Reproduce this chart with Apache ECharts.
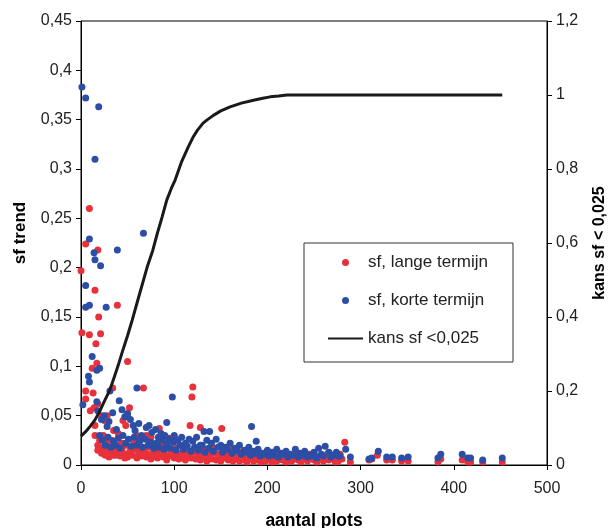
<!DOCTYPE html>
<html>
<head>
<meta charset="utf-8">
<script src="https://cdn.jsdelivr.net/npm/echarts@6/dist/echarts.min.js"></script>
<style>
html,body{margin:0;padding:0;background:#fff;}
#chart{width:609px;height:528px;}
</style>
</head>
<body>
<div id="chart"></div>
<script>
// sf, lange termijn  [aantal plots, sf trend]
const langeTermijn = [
[0,0.197],[1,0.134],[9,0.132],[21,0.133],[16,0.123],[9,0.26],[5,0.224],[18,0.218],[15,0.177],[39,0.162],[19,0.150],
[17,0.103],[12,0.098],[50,0.105],[5,0.075],[13,0.073],[34,0.078],[67,0.078],[5,0.067],[120,0.079],[119,0.069],
[84,0.037],[117,0.040],[128,0.038],[151,0.037],[283,0.023],
[10,0.055],[14,0.058],[18,0.062],[22,0.05],[25,0.045],[28,0.05],[45,0.045],[50,0.052],[52,0.058],[48,0.04],[35,0.035],
[40,0.032],[60,0.03],[70,0.03],[75,0.028],[95,0.027],[100,0.028],[62,0.025],
[15,0.04],[15,0.03],[18,0.02],[18,0.015],[20,0.018],[22,0.012],[24,0.016],[26,0.01],[28,0.02],[30,0.008],[32,0.014],
[34,0.01],[36,0.018],[38,0.012],[40,0.02],[42,0.009],[44,0.015],[46,0.011],[48,0.02],[50,0.008],[52,0.013],[55,0.01],
[58,0.016],[60,0.007],[62,0.012],[65,0.009],[68,0.014],[70,0.008],[72,0.011],[75,0.006],[78,0.013],[80,0.009],[82,0.007],
[85,0.012],[88,0.008],[90,0.01],[92,0.005],[95,0.009],[98,0.013],[100,0.007],[103,0.01],[105,0.006],[108,0.012],[110,0.008],
[112,0.005],[115,0.01],[118,0.007],[120,0.013],[123,0.006],[125,0.009],[128,0.005],[130,0.011],[133,0.007],[135,0.004],
[138,0.009],[140,0.006],[143,0.012],[145,0.005],[148,0.008],[150,0.004],[153,0.007],[155,0.01],[158,0.005],[160,0.008],
[163,0.004],[165,0.006],[168,0.009],[170,0.004],[173,0.007],[175,0.005],[178,0.003],[180,0.006],[183,0.008],[185,0.004],
[188,0.005],[190,0.007],[193,0.003],[195,0.006],[198,0.004],[200,0.007],[203,0.005],[205,0.003],[208,0.006],[210,0.004],
[213,0.007],[216,0.005],[220,0.003],[223,0.006],[226,0.004],[230,0.008],[233,0.005],[236,0.003],[240,0.006],[243,0.004],
[246,0.007],[250,0.005],[253,0.003],[256,0.006],[260,0.004],[263,0.008],[266,0.005],[270,0.007],[273,0.003],[276,0.004],
[280,0.006],[289,0.003],[309,0.005],[312,0.006],[318,0.01],[328,0.005],[334,0.005],[344,0.004],[351,0.004],[383,0.003],
[386,0.006],[409,0.005],[415,0.003],[418,0.003],[431,0.003],[452,0.003],
[20,0.025],[24,0.03],[27,0.022],[30,0.015],[33,0.025],[37,0.01],[41,0.014],[44,0.022],[47,0.007],[53,0.018],[57,0.022],
[63,0.017],[67,0.011],[73,0.018],[77,0.01],[83,0.015],[87,0.02],[93,0.016],[97,0.011],[102,0.017],[107,0.009],[113,0.015],
[117,0.012],[122,0.018],[127,0.012],[132,0.016],[137,0.013],[142,0.017],[147,0.011],[152,0.014],[157,0.012],[162,0.016],
[167,0.011],[172,0.013],[177,0.009],[182,0.012],[187,0.009],[192,0.011],[197,0.01],[202,0.012],[207,0.009],[212,0.011],
[218,0.008],[225,0.01],[232,0.012],[238,0.009],[245,0.011],[252,0.009],[258,0.01],[265,0.012],[272,0.009],[278,0.011]
];

// sf, korte termijn  [aantal plots, sf trend]
const korteTermijn = [
[1,0.383],[5,0.372],[19,0.363],[15,0.31],[9,0.229],[14,0.215],[39,0.218],[67,0.235],[15,0.208],[21,0.202],[5,0.182],
[5,0.16],[9,0.162],[27,0.16],[12,0.11],[17,0.096],[20,0.098],[8,0.09],[9,0.084],[31,0.075],[60,0.078],[2,0.061],[17,0.064],
[41,0.065],[98,0.069],[92,0.043],[132,0.034],[138,0.034],[183,0.039],[188,0.024],[284,0.016],[289,0.008],[309,0.006],
[312,0.007],[319,0.014],[328,0.008],[334,0.008],[344,0.007],[351,0.008],[383,0.007],[386,0.011],[409,0.011],[415,0.007],
[418,0.007],[431,0.005],[452,0.007],
[18,0.055],[22,0.046],[25,0.05],[28,0.039],[30,0.044],[34,0.053],[38,0.036],[44,0.056],[47,0.049],[50,0.052],[53,0.046],
[56,0.04],[58,0.035],[62,0.042],[65,0.03],[70,0.038],[73,0.04],[76,0.033],[80,0.036],[83,0.028],[86,0.032],[90,0.03],
[94,0.026],[100,0.03],[104,0.025],[108,0.028],[112,0.022],[116,0.026],[120,0.024],[124,0.028],[128,0.02],[135,0.025],
[140,0.022],[145,0.026],[150,0.02],[155,0.018],[160,0.022],[165,0.017],[170,0.02],[175,0.015],[180,0.018],[185,0.014],
[190,0.016],[195,0.012],[200,0.015],[205,0.013],[210,0.016],[215,0.012],[220,0.014],[225,0.011],[230,0.016],[235,0.012],
[240,0.014],[245,0.01],[250,0.013],[255,0.017],[258,0.011],[262,0.019],[266,0.013],[270,0.01],[274,0.013],[278,0.009],
[20,0.03],[23,0.025],[26,0.02],[29,0.028],[32,0.018],[35,0.024],[37,0.02],[40,0.027],[42,0.017],[45,0.03],[48,0.022],
[51,0.026],[54,0.019],[57,0.028],[60,0.02],[63,0.024],[66,0.018],[69,0.026],[72,0.02],[75,0.023],[78,0.017],[81,0.022],
[84,0.018],[87,0.025],[89,0.016],[92,0.021],[96,0.017],[99,0.023],[102,0.015],[106,0.02],[110,0.016],[114,0.019],
[118,0.014],[122,0.018],[126,0.015],[130,0.02],[133,0.013],[137,0.017],[142,0.014],[147,0.018],[152,0.013],[157,0.016],
[162,0.012],[167,0.015],[172,0.011],[177,0.013],[182,0.01],[187,0.012],[192,0.009],[197,0.011],[202,0.009],[207,0.01],
[212,0.008],[217,0.011],[222,0.008],[227,0.01],[233,0.008],[238,0.01],[243,0.008],[248,0.009],[253,0.007],[260,0.009],
[268,0.008],[276,0.009]
];

// kans sf < 0,025  [aantal plots, kans]
const kansCurve = [
[0,0.078],[5,0.09],[10,0.105],[15,0.122],[20,0.145],[25,0.172],[31,0.203],[36,0.24],[40,0.27],[44,0.303],[50,0.35],
[55,0.392],[61,0.446],[66,0.49],[71,0.535],[77,0.58],[82,0.627],[87,0.67],[92,0.716],[97,0.748],[101,0.77],[108,0.82],
[115,0.859],[120,0.885],[125,0.905],[131,0.924],[135,0.932],[142,0.945],[150,0.957],[160,0.968],[172,0.978],[185,0.986],
[195,0.991],[203,0.995],[212,0.997],[221,1.0],[452,1.0]
];

const seriesNames = ['sf, lange termijn', 'sf, korte termijn', 'kans sf <0,025'];
const axisTitles = { x: 'aantal plots', yLeft: 'sf trend', yRight: 'kans sf < 0,025' };

const comma = v => String(+(+v).toFixed(2)).replace('.', ',');
const FONT = 'Liberation Sans, Arial, sans-serif';
const axisLineStyle = { lineStyle: { color: '#000', width: 1 } };
const labelStyle = { color: '#222', fontSize: 16, fontFamily: FONT };
const nameStyle = { color: '#000', fontSize: 16, fontWeight: 'bold', fontFamily: FONT };

const chart = echarts.init(document.getElementById('chart'), null, { renderer: 'canvas' });
chart.setOption({
  animation: false,
  backgroundColor: '#fff',
  grid: { left: 81, right: 62, top: 21, bottom: 63, show: true, borderColor: '#000', borderWidth: 1,
    backgroundColor: 'transparent', containLabel: false, outerBoundsMode: 'none' },
  legend: {
    orient: 'vertical', left: 304, top: 243,
    padding: [11, 25, 15, 23], itemGap: 21, itemWidth: 35, itemHeight: 7,
    borderColor: '#333', borderWidth: 1, backgroundColor: '#fff',
    textStyle: { color: '#222', fontSize: 17, fontFamily: FONT },
    data: [
      { name: seriesNames[0] },
      { name: seriesNames[1] },
      { name: seriesNames[2], itemStyle: { opacity: 0 } }
    ]
  },
  xAxis: {
    type: 'value', min: 0, max: 500, interval: 100,
    name: axisTitles.x, nameLocation: 'middle', nameGap: 47,
    nameTextStyle: Object.assign({}, nameStyle, { fontSize: 17.5 }),
    axisLine: axisLineStyle, axisTick: { show: true, length: 5, lineStyle: { color: '#000' } },
    axisLabel: Object.assign({ margin: 16 }, labelStyle),
    splitLine: { show: false }
  },
  yAxis: [
    {
      type: 'value', min: 0, max: 0.45, interval: 0.05, position: 'left',
      name: axisTitles.yLeft, nameLocation: 'middle', nameGap: 52,
      nameTextStyle: Object.assign({}, nameStyle, { fontSize: 17, padding: [0, 0, 0, 20] }),
      axisLine: { show: true, lineStyle: { color: '#000', width: 1 } },
      axisTick: { show: true, length: 5, lineStyle: { color: '#000' } },
      axisLabel: Object.assign({ margin: 9, formatter: comma }, labelStyle),
      splitLine: { show: false }
    },
    {
      type: 'value', min: 0, max: 1.2, interval: 0.2, position: 'right',
      name: axisTitles.yRight, nameLocation: 'middle', nameGap: 45, nameTextStyle: nameStyle,
      axisLine: { show: true, lineStyle: { color: '#000', width: 1 } },
      axisTick: { show: true, length: 5, lineStyle: { color: '#000' } },
      axisLabel: Object.assign({ margin: 9, formatter: comma }, labelStyle),
      splitLine: { show: false }
    }
  ],
  series: [
    { name: seriesNames[0], type: 'scatter', yAxisIndex: 0, data: langeTermijn, symbol: 'circle', symbolSize: 7,
      itemStyle: { color: '#e8313a', opacity: 1 } },
    { name: seriesNames[1], type: 'scatter', yAxisIndex: 0, data: korteTermijn, symbol: 'circle', symbolSize: 7,
      itemStyle: { color: '#2c4ea6', opacity: 1 } },
    { name: seriesNames[2], type: 'line', yAxisIndex: 1, data: kansCurve, showSymbol: false, symbol: 'none',
      lineStyle: { color: '#1a1a1a', width: 3 }, itemStyle: { color: '#1a1a1a' }, z: 3 }
  ]
});
</script>
</body>
</html>
